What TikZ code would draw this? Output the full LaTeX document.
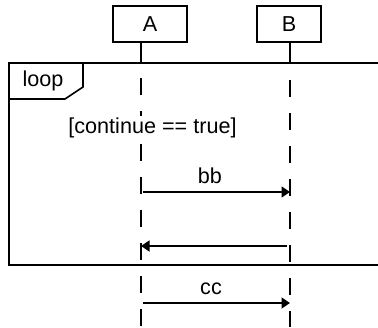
\documentclass[tikz,border=0pt]{standalone}
\usepackage{fontspec}
\setmainfont{Liberation Sans}
\usetikzlibrary{arrows.meta,positioning}

\begin{document}
\begin{tikzpicture}[
  font=\fontsize{12.3}{14}\selectfont,
  actor/.style={draw,line width=0.9pt,minimum height=0.72cm,inner sep=0pt},
  lifeline/.style={line width=0.9pt,dash pattern=on 0.34cm off 0.32cm},
  msg/.style={line width=0.9pt,-{Triangle[length=0.17cm,width=0.22cm]}},
  frame/.style={line width=0.9pt}]
  \useasboundingbox (0,0) rectangle (7.56,6.54);
  \clip (0,0) rectangle (7.56,6.54);
  % Participants
  \node[actor,minimum width=1.48cm] (A) at (3.00,6.06) {A};
  \node[actor,minimum width=1.28cm] (B) at (5.78,6.06) {B};
  % Lifeline tracks and message heights
  \coordinate (lA) at (2.82,0);
  \coordinate (lB) at (5.80,0);
  \coordinate (m1) at (0,2.70);
  \coordinate (m2) at (0,1.62);
  \coordinate (m3) at (0,0.48);
  % Loop fragment (runs off the right edge)
  \draw[frame] (7.70,5.28) -- (0.18,5.28) -- (0.18,1.24) -- (7.70,1.24);
  \draw[frame] (0.18,4.56) -- (1.30,4.56) -- (1.66,4.80) -- (1.66,5.28);
  \node (loop) at (0.86,4.92) {loop};
  % Lifelines
  \draw[frame] (lA |- A.south) -- (lA |- 0,5.28);
  \draw[frame] (lB |- B.south) -- (lB |- 0,5.28);
  \draw[lifeline] (lA |- 0,4.98) -- (lA);
  \draw[lifeline] (lB |- 0,4.94) -- (lB);
  % Guard
  \node[fill=white,inner sep=1pt] (guard) at (3.05,3.98) {[continue == true]};
  % Messages
  \draw[msg] ([xshift=0.04cm]lA |- m1) -- node[above=1pt,xshift=-0.13cm] (bb) {bb} (lB |- m1);
  \draw[msg] ([xshift=-0.06cm]lB |- m2) -- (lA |- m2);
  \draw[msg] ([xshift=0.04cm]lA |- m3) -- node[above=1pt,xshift=-0.11cm] (cc) {cc} (lB |- m3);
\end{tikzpicture}
\end{document}
